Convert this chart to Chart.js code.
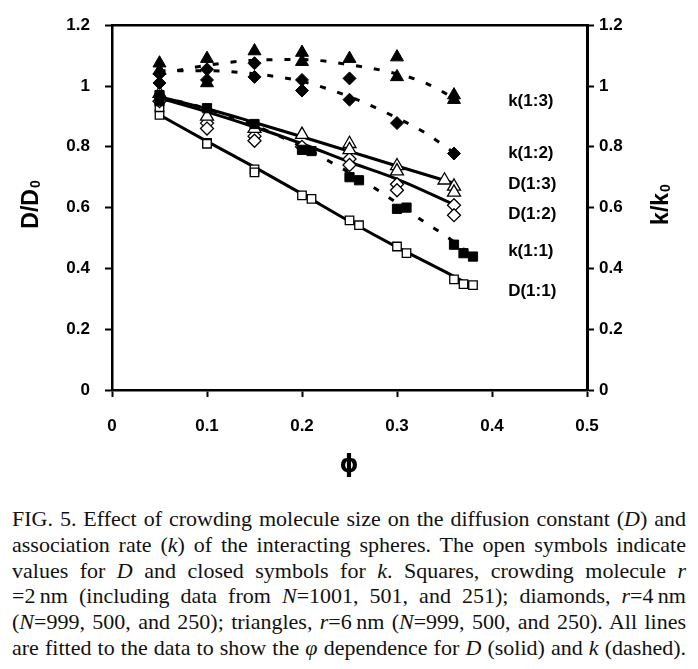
<!DOCTYPE html>
<html><head><meta charset="utf-8">
<script src="https://cdn.jsdelivr.net/npm/chart.js@4.4.1/dist/chart.umd.min.js"></script>
<style>
html,body{margin:0;padding:0;background:#fff;}
body{width:698px;height:669px;overflow:hidden;position:relative;}
#wrap{position:absolute;left:0;top:0;width:698px;height:490px;}
#cap{position:absolute;left:12px;top:506px;width:674px;font-family:"Liberation Serif","Times New Roman",serif;font-size:22px;line-height:25.8px;color:#111;}
#cap div{text-align:justify;text-align-last:justify;white-space:nowrap;transform-origin:0 50%;}
</style></head>
<body>
<div id="wrap"><canvas id="c" width="698" height="490"></canvas></div>
<div id="cap">
<div><span>FIG. 5. Effect of crowding molecule size on the diffusion constant (<i>D</i>) and</span></div>
<div><span>association rate (<i>k</i>) of the interacting spheres. The open symbols indicate</span></div>
<div><span>values for <i>D</i> and closed symbols for <i>k</i>. Squares, crowding molecule <i>r</i></span></div>
<div><span>=2&#8201;nm (including data from <i>N</i>=1001, 501, and 251); diamonds, <i>r</i>=4&#8201;nm</span></div>
<div><span>(<i>N</i>=999, 500, and 250); triangles, <i>r</i>=6&#8201;nm (<i>N</i>=999, 500, and 250). All lines</span></div>
<div><span>are fitted to the data to show the <i>φ</i> dependence for <i>D</i> (solid) and <i>k</i> (dashed).</span></div>
</div>
<script>
// ---- axis ticks ----
const xTickLabels = ['0','0.1','0.2','0.3','0.4','0.5'];
const yTickLabels = ['0','0.2','0.4','0.6','0.8','1','1.2'];

// ---- data points (phi, value) ----
// D (1:1) open squares
const d11Phi = [0.05,0.05,0.1,0.1,0.15,0.15,0.2,0.21,0.25,0.26,0.3,0.31,0.36,0.37,0.38];
const d11Val = [0.905,0.93,0.813,0.81,0.726,0.716,0.64,0.629,0.558,0.542,0.472,0.45,0.364,0.348,0.345];
// k (1:1) filled squares
const k11Phi = [0.05,0.05,0.1,0.15,0.2,0.21,0.25,0.26,0.3,0.31,0.36,0.37,0.38];
const k11Val = [0.97,0.95,0.927,0.875,0.79,0.786,0.70,0.69,0.596,0.60,0.478,0.45,0.439];
// D (1:2) open diamonds
const d12Phi = [0.05,0.1,0.1,0.15,0.15,0.2,0.25,0.25,0.3,0.3,0.36,0.36];
const d12Val = [0.95,0.878,0.86,0.835,0.82,0.80,0.76,0.74,0.677,0.657,0.608,0.575];
// k (1:2) filled diamonds
const k12Phi = [0.05,0.05,0.1,0.1,0.15,0.15,0.2,0.2,0.25,0.25,0.3,0.36];
const k12Val = [1.04,1.01,1.055,1.02,1.075,1.03,1.02,0.985,1.025,0.955,0.878,0.778];
// D (1:3) open triangles
const d13Phi = [0.05,0.1,0.15,0.2,0.25,0.25,0.3,0.3,0.35,0.36,0.36];
const d13Val = [0.975,0.90,0.86,0.84,0.81,0.79,0.737,0.72,0.69,0.67,0.65];
// k (1:3) filled triangles
const k13Phi = [0.05,0.05,0.1,0.1,0.15,0.2,0.2,0.25,0.3,0.3,0.36,0.36];
const k13Val = [1.075,1.05,1.09,1.01,1.115,1.11,1.08,1.09,1.095,1.03,0.97,0.955];

// ---- fitted curves ----
const fitD11Phi = [0.05,0.1,0.15,0.2,0.25,0.3,0.35,0.38];
const fitD11Val = [0.905,0.818,0.733,0.645,0.555,0.47,0.39,0.34];
const fitD12Phi = [0.05,0.1,0.15,0.2,0.25,0.3,0.36];
const fitD12Val = [0.96,0.915,0.865,0.81,0.75,0.694,0.61];
const fitD13Phi = [0.05,0.1,0.15,0.2,0.25,0.3,0.36];
const fitD13Val = [0.965,0.925,0.88,0.833,0.785,0.737,0.68];
const fitK11Phi = [0.05,0.1,0.15,0.2,0.23,0.25,0.28,0.3,0.33,0.35,0.38];
const fitK11Val = [0.965,0.925,0.87,0.80,0.75,0.715,0.657,0.615,0.55,0.51,0.44];
const fitK12Phi = [0.05,0.1,0.15,0.2,0.25,0.3,0.33,0.36];
const fitK12Val = [1.05,1.05,1.04,1.015,0.965,0.895,0.845,0.78];
const fitK13Phi = [0.05,0.1,0.15,0.2,0.25,0.3,0.33,0.36];
const fitK13Val = [1.04,1.068,1.085,1.087,1.07,1.04,1.01,0.96];

// ---- in-plot series labels ----
const labelText = ['k(1:3)','k(1:2)','D(1:3)','D(1:2)','k(1:1)','D(1:1)'];
const labelVal  = [0.95,0.78,0.676,0.579,0.455,0.325];
const labelPhi  = 0.417;

const pts = (p, v) => p.map((x, i) => ({x: x, y: v[i]}));

const marker = (data, style, radius, filled) => ({
  data: pts(data[0], data[1]), showLine: false,
  pointStyle: style, pointRadius: radius, pointHoverRadius: radius,
  pointBackgroundColor: filled ? '#000' : '#fff',
  pointBorderColor: '#000', pointBorderWidth: filled ? 1 : 1.3
});
const fit = (p, v, dashed) => ({
  data: pts(p, v), showLine: true, pointRadius: 0, pointHoverRadius: 0,
  borderColor: '#000', borderWidth: 3, borderDash: dashed ? [6, 12] : [],
  tension: 0.4, cubicInterpolationMode: 'monotone', fill: false
});

const datasets = [
  marker([k13Phi, k13Val], 'triangle', 7.5, true),
  marker([k12Phi, k12Val], 'rectRot', 6.5, true),
  marker([k11Phi, k11Val], 'rect', 6.5, true),
  marker([d13Phi, d13Val], 'triangle', 7.5, false),
  marker([d12Phi, d12Val], 'rectRot', 6.5, false),
  marker([d11Phi, d11Val], 'rect', 6, false),
  fit(fitD11Phi, fitD11Val, false),
  fit(fitD12Phi, fitD12Val, false),
  fit(fitD13Phi, fitD13Val, false),
  fit(fitK11Phi, fitK11Val, true),
  fit(fitK12Phi, fitK12Val, true),
  fit(fitK13Phi, fitK13Val, true)
];

const TICKFONT = {family: '"Liberation Sans", Arial, sans-serif', size: 17, weight: 'bold'};

const deco = {
  id: 'deco',
  afterDraw(chart) {
    const {ctx, chartArea: a, scales: {x, y}} = chart;
    ctx.save();
    ctx.strokeStyle = '#000'; ctx.lineWidth = 2.5;
    ctx.beginPath(); ctx.moveTo(a.left - 1, a.top); ctx.lineTo(a.right + 1, a.top); ctx.stroke();
    ctx.fillStyle = '#000';
    ctx.font = 'bold 17px "Liberation Sans", Arial, sans-serif';
    ctx.textAlign = 'left'; ctx.textBaseline = 'middle';
    labelText.forEach((t, i) => ctx.fillText(t, x.getPixelForValue(labelPhi), y.getPixelForValue(labelVal[i])));
    const rotTitle = (cx, cy, main, sub) => {
      ctx.save();
      ctx.translate(cx, cy); ctx.rotate(-Math.PI / 2);
      ctx.textBaseline = 'alphabetic'; ctx.textAlign = 'left';
      ctx.font = 'bold 23px "Liberation Sans", Arial, sans-serif';
      const w1 = ctx.measureText(main).width;
      ctx.font = 'bold 14px "Liberation Sans", Arial, sans-serif';
      const w2 = ctx.measureText(sub).width;
      const x0 = -(w1 + w2) / 2;
      ctx.font = 'bold 23px "Liberation Sans", Arial, sans-serif';
      ctx.fillText(main, x0, 8);
      ctx.font = 'bold 14px "Liberation Sans", Arial, sans-serif';
      ctx.fillText(sub, x0 + w1 + 1, 10);
      ctx.restore();
    };
    rotTitle(30, 205, 'D/D', '0');
    rotTitle(660, 205, 'k/k', '0');
    ctx.font = 'bold 24px "DejaVu Sans", sans-serif';
    ctx.textAlign = 'center'; ctx.textBaseline = 'middle';
    ctx.fillText('\u03D5', 349, 466);
    ctx.restore();
  }
};

new Chart(document.getElementById('c'), {
  type: 'scatter',
  data: {datasets},
  options: {
    responsive: false, animation: false, devicePixelRatio: 1,
    layout: {padding: {top: 21, left: 0, right: 0, bottom: 0}},
    plugins: {legend: {display: false}, tooltip: {enabled: false}},
    scales: {
      x: {
        type: 'linear', min: 0, max: 0.5, position: 'bottom',
        afterFit: s => { s.height = 100; },
        ticks: {stepSize: 0.1, color: '#000', font: TICKFONT, padding: 19,
                callback: (v, i) => xTickLabels[i]},
        grid: {drawOnChartArea: false, drawTicks: true, tickLength: 7, tickWidth: 2, tickColor: '#000'},
        border: {display: true, color: '#000', width: 2.5}
      },
      y: {
        type: 'linear', min: 0, max: 1.2, position: 'left',
        afterFit: s => { s.width = 112; },
        ticks: {stepSize: 0.2, color: '#000', font: TICKFONT, padding: 15,
                callback: (v, i) => yTickLabels[i]},
        grid: {drawOnChartArea: false, drawTicks: true, tickLength: 7, tickWidth: 2, tickColor: '#000'},
        border: {display: true, color: '#000', width: 2.5}
      },
      y2: {
        type: 'linear', min: 0, max: 1.2, position: 'right',
        afterFit: s => { s.width = 111; },
        ticks: {stepSize: 0.2, color: '#000', font: TICKFONT, padding: 5,
                callback: (v, i) => yTickLabels[i]},
        grid: {drawOnChartArea: false, drawTicks: true, tickLength: 7, tickWidth: 2, tickColor: '#000'},
        border: {display: true, color: '#000', width: 3}
      }
    }
  },
  plugins: [deco]
});

// fit caption lines that are wider than the column
document.querySelectorAll('#cap div').forEach(d => {
  const w = d.firstElementChild.getBoundingClientRect().width;
  if (w > 674) {
    d.style.width = w + 'px';
    d.style.transform = 'scaleX(' + (674 / w) + ')';
  }
});
</script>
</body></html>
